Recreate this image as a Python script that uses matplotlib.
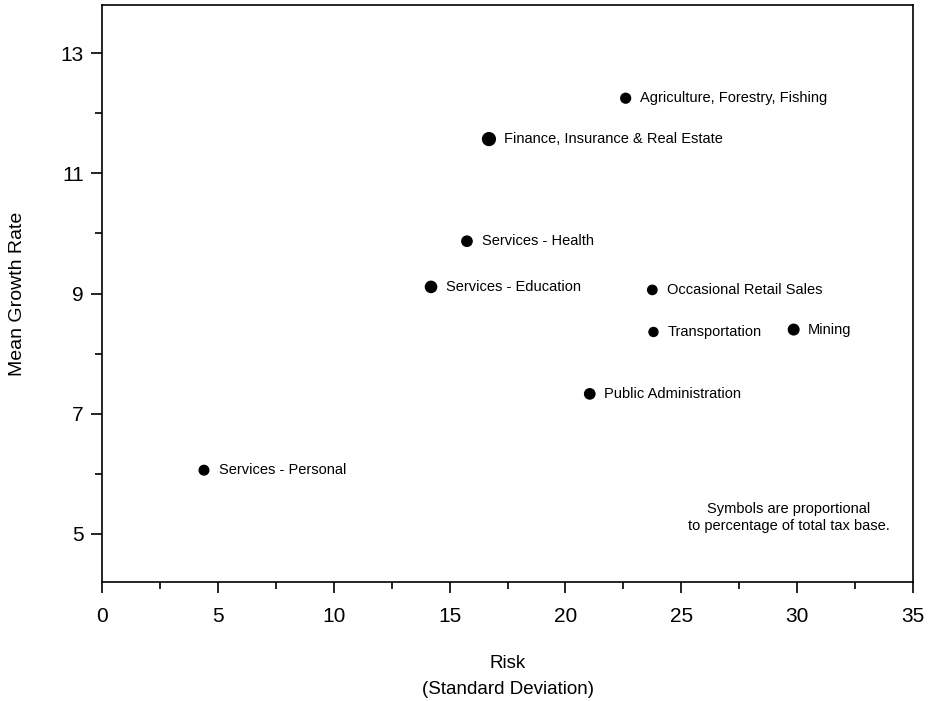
import numpy as np
import matplotlib.pyplot as plt
from matplotlib.ticker import MultipleLocator

plt.rcParams['font.family'] = ['Liberation Sans', 'DejaVu Sans']

# industries: risk (std dev) vs mean growth rate
sectors = ['Agriculture, Forestry, Fishing', 'Finance, Insurance & Real Estate',
           'Services - Health', 'Services - Education',
           'Occasional Retail Sales', 'Transportation', 'Mining',
           'Public Administration', 'Services - Personal']
risk   = [22.6, 16.7, 15.75, 14.2, 23.75, 23.8, 29.85, 21.05, 4.4]
growth = [12.25, 11.57, 9.87, 9.11, 9.06, 8.36, 8.40, 7.33, 6.06]
# relative share of total tax base (marker area)
tax_share = [50, 85, 55, 65, 45, 42, 58, 55, 48]

fig = plt.figure(figsize=(9.3, 7.01), dpi=100)
ax = fig.add_axes([0.1097, 0.1698, 0.872, 0.823])

ax.scatter(risk, growth, s=tax_share, color='black', zorder=3)
for x, y, name in zip(risk, growth, sectors):
    ax.annotate(name, (x, y), xytext=(10.5, 0), textcoords='offset points',
                va='center', ha='left', fontsize=10.5)

ax.set_xlim(0, 35)
ax.set_ylim(4.2, 13.8)
ax.xaxis.set_major_locator(MultipleLocator(5))
ax.xaxis.set_minor_locator(MultipleLocator(2.5))
ax.yaxis.set_major_locator(MultipleLocator(2))
ax.yaxis.set_minor_locator(MultipleLocator(1))
ax.set_yticks([5, 7, 9, 11, 13])
ax.tick_params(which='major', length=8, width=1.2, labelsize=15)
ax.tick_params(axis='x', which='major', pad=10)
ax.tick_params(axis='y', which='major', pad=5)
ax.tick_params(which='minor', length=5, width=1.2)
for sp in ax.spines.values():
    sp.set_linewidth(1.2)

ax.set_xlabel('Risk\n(Standard Deviation)', fontsize=13.5, labelpad=21,
              linespacing=1.7)
ax.set_ylabel('Mean Growth Rate', fontsize=14, labelpad=25)

ax.text(0.847, 0.085, 'Symbols are proportional\nto percentage of total tax base.',
        transform=ax.transAxes, ha='center', va='bottom', fontsize=10.5,
        linespacing=1.3)

plt.savefig('out.png', dpi=100)
